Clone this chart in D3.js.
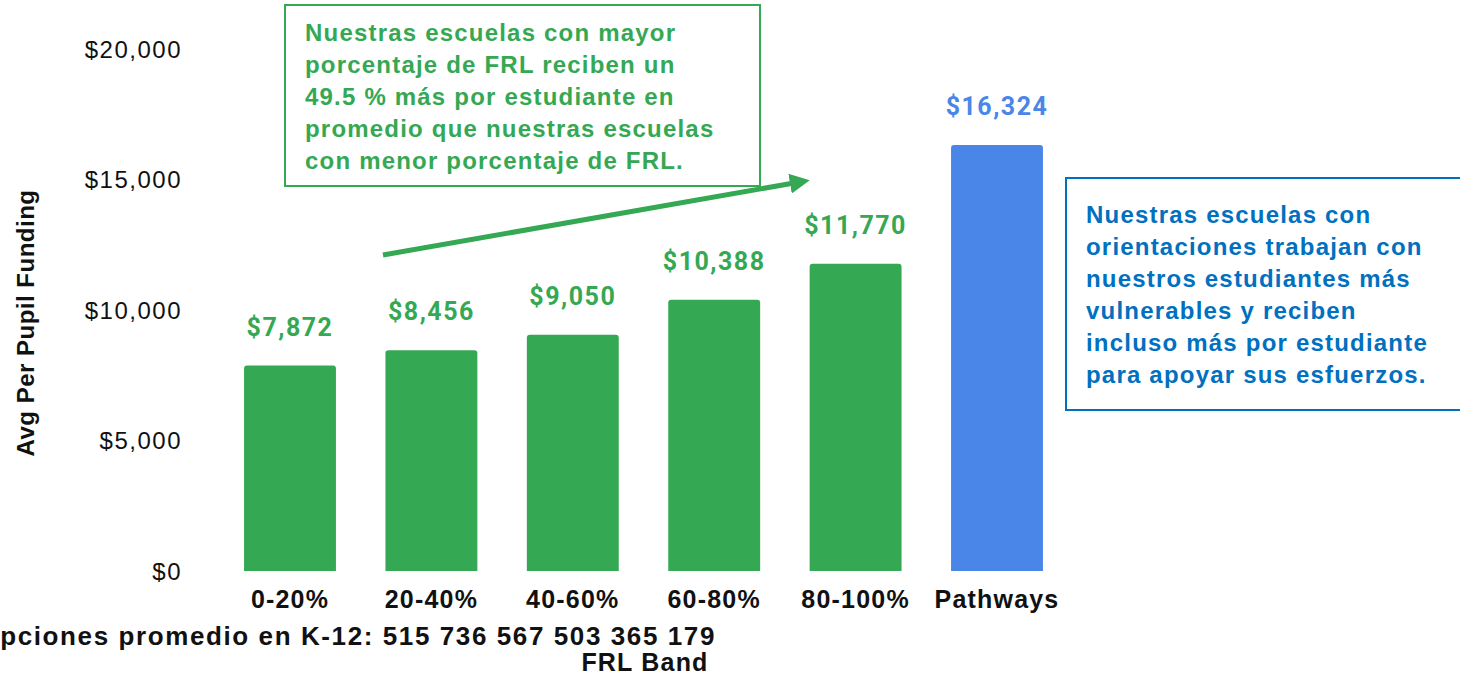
<!DOCTYPE html>
<html>
<head>
<meta charset="utf-8">
<script src="https://cdn.jsdelivr.net/npm/d3@7"></script>
<style>
  html, body { margin: 0; padding: 0; background: #fff; overflow: hidden; }
  svg { display: block; }
  text { font-family: "Liberation Sans", Arial, sans-serif; }
</style>
</head>
<body>
<div id="chart"></div>
<script>
// datos del grafico
let bands = ['0-20%', '20-40%', '40-60%', '60-80%', '80-100%', 'Pathways'];
let funding = [7872, 8456, 9050, 10388, 11770, 16324];
let enrollment = [515, 736, 567, 503, 365, 179];
let yTicks = [0, 5000, 10000, 15000, 20000];

let greenNote = [
    'Nuestras escuelas con mayor',
    'porcentaje de FRL reciben un',
    '49.5 % más por estudiante en',
    'promedio que nuestras escuelas',
    'con menor porcentaje de FRL.'
];
let blueNote = [
    'Nuestras escuelas con',
    'orientaciones trabajan con',
    'nuestros estudiantes más',
    'vulnerables y reciben',
    'incluso más por estudiante',
    'para apoyar sus esfuerzos.'
];

let green = '#34A853', blue = '#4A86E8', noteBlue = '#0070C0';

let width = 1460, height = 675;
let svg = d3.select('#chart').append('svg')
    .attr('width', width)
    .attr('height', height);

// escalas
let x = d3.scaleBand()
    .domain(bands)
    .range([219.3, 1067.7])
    .paddingInner(0.35)
    .paddingOuter(0.175);

let y = d3.scaleLinear()
    .domain([0, 20000])
    .range([571, 49]);

// eje Y
let yAxis = function(g) {
    g.call(d3.axisLeft(y).tickValues(yTicks).tickSize(0).tickPadding(0)
        .tickFormat(function(d) { return '$' + d3.format(',')(d); }));
    g.call(function(g) { g.select('.domain').remove(); });
    g.selectAll('.tick text')
        .attr('font-family', '"Liberation Sans", Arial, sans-serif')
        .attr('font-size', 24)
        .attr('letter-spacing', 1.5)
        .attr('fill', '#111')
        .attr('dy', '0.35em');
};
svg.append('g').attr('transform', 'translate(182,0)').call(yAxis);

// eje X
let xAxis = function(g) {
    g.call(d3.axisBottom(x).tickSize(0).tickPadding(0));
    g.call(function(g) { g.select('.domain').remove(); });
    g.selectAll('.tick text')
        .attr('font-family', '"Liberation Sans", Arial, sans-serif')
        .attr('font-size', 25)
        .attr('font-weight', 'bold')
        .attr('letter-spacing', 1.2)
        .attr('fill', '#111')
        .attr('dy', '0.71em');
};
svg.append('g').attr('transform', 'translate(0,590)').call(xAxis);

// barras
svg.selectAll('.bar')
    .data(funding)
    .enter()
    .append('path')
    .attr('class', 'bar')
    .attr('fill', function(d, i) { return bands[i] === 'Pathways' ? blue : green; })
    .attr('d', function(d, i) {
        let x0 = x(bands[i]), w = x.bandwidth(), y0 = y(d), y1 = y(0), r = 3;
        return 'M' + x0 + ',' + y1 + 'V' + (y0 + r) + 'Q' + x0 + ',' + y0 + ' ' + (x0 + r) + ',' + y0 +
            'H' + (x0 + w - r) + 'Q' + (x0 + w) + ',' + y0 + ' ' + (x0 + w) + ',' + (y0 + r) + 'V' + y1 + 'Z';
    });

// etiquetas de valor
svg.selectAll('.val')
    .data(funding)
    .enter()
    .append('text')
    .attr('class', 'val')
    .attr('x', function(d, i) { return x(bands[i]) + x.bandwidth() / 2; })
    .attr('y', function(d) { return y(d) - 30; })
    .attr('text-anchor', 'middle')
    .style('font-family', 'Roboto, sans-serif')
    .attr('font-size', 25)
    .attr('font-weight', 'bold')
    .attr('letter-spacing', 1.5)
    .attr('fill', function(d, i) { return bands[i] === 'Pathways' ? blue : green; })
    .text(function(d) { return '$' + d3.format(',')(d); });

// titulo eje Y
svg.append('text')
    .attr('transform', 'translate(34,323) rotate(-90)')
    .attr('text-anchor', 'middle')
    .attr('font-size', 24)
    .attr('font-weight', 'bold')
    .attr('letter-spacing', 0.5)
    .attr('fill', '#111')
    .text('Avg Per Pupil Funding');

// matricula y titulo eje X
svg.append('text')
    .attr('x', 716)
    .attr('y', 645)
    .attr('text-anchor', 'end')
    .attr('font-size', 26)
    .attr('font-weight', 'bold')
    .attr('letter-spacing', 1.6)
    .attr('fill', '#111')
    .text('Inscripciones promedio en K-12: ' + enrollment.join(' '));

svg.append('text')
    .attr('x', 645)
    .attr('y', 671)
    .attr('text-anchor', 'middle')
    .attr('font-size', 25)
    .attr('font-weight', 'bold')
    .attr('letter-spacing', 1.2)
    .attr('fill', '#111')
    .text('FRL Band');

// nota verde
svg.append('rect')
    .attr('x', 285).attr('y', 5)
    .attr('width', 475).attr('height', 181)
    .attr('fill', '#fff')
    .attr('stroke', green)
    .attr('stroke-width', 2);

svg.append('g').selectAll('text')
    .data(greenNote)
    .enter()
    .append('text')
    .attr('x', 305)
    .attr('y', function(d, i) { return 41 + i * 32; })
    .attr('font-size', 24)
    .attr('font-weight', 'bold')
    .attr('letter-spacing', 1.2)
    .attr('fill', green)
    .text(function(d) { return d; });

// flecha
svg.append('defs').append('marker')
    .attr('id', 'head')
    .attr('viewBox', '0 0 10 10')
    .attr('refX', 2).attr('refY', 5)
    .attr('markerWidth', 4).attr('markerHeight', 4)
    .attr('markerUnits', 'strokeWidth')
    .attr('orient', 'auto')
    .append('path')
    .attr('d', 'M0,0L10,5L0,10Z')
    .attr('fill', green);

svg.append('line')
    .attr('x1', 383).attr('y1', 255)
    .attr('x2', 794).attr('y2', 183)
    .attr('stroke', green)
    .attr('stroke-width', 5)
    .attr('marker-end', 'url(#head)');

// nota azul
svg.append('rect')
    .attr('x', 1066).attr('y', 178)
    .attr('width', 420).attr('height', 232)
    .attr('fill', '#fff')
    .attr('stroke', noteBlue)
    .attr('stroke-width', 2);

svg.append('g').selectAll('text')
    .data(blueNote)
    .enter()
    .append('text')
    .attr('x', 1086)
    .attr('y', function(d, i) { return 223 + i * 32; })
    .attr('font-size', 24)
    .attr('font-weight', 'bold')
    .attr('letter-spacing', 1.2)
    .attr('fill', noteBlue)
    .text(function(d) { return d; });
</script>
</body>
</html>
